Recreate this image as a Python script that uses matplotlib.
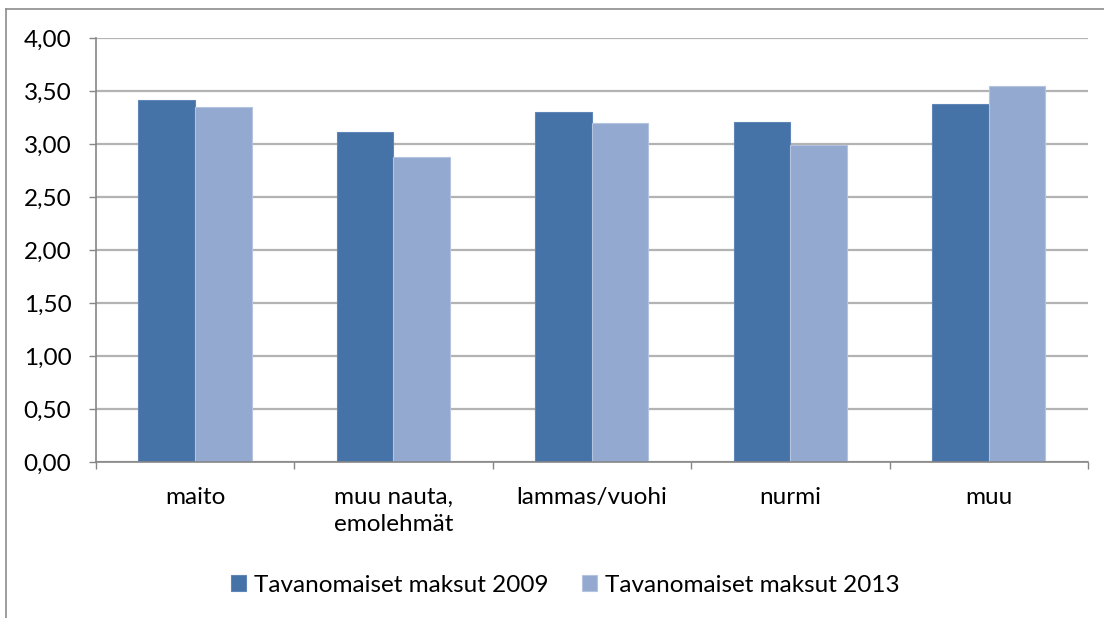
import numpy as np
import matplotlib

matplotlib.use("Agg")
import matplotlib.pyplot as plt
from matplotlib.lines import Line2D
from matplotlib.ticker import FuncFormatter, MultipleLocator

categories = ["maito", "muu nauta,\nemolehmät", "lammas/vuohi", "nurmi", "muu"]
series_names = ["Tavanomaiset maksut 2009", "Tavanomaiset maksut 2013"]
values_2009 = [3.42, 3.12, 3.31, 3.21, 3.38]
values_2013 = [3.35, 2.88, 3.20, 2.99, 3.55]

colors = ["#4572A7", "#93A9CF"]
edge_colors = ["#5F86B6", "#B4C4E0"]
grid_color = "#B3B3B3"
axis_color = "#868686"

plt.rcParams["font.family"] = ["Lato", "DejaVu Sans"]
plt.rcParams["font.size"] = 17.5

fig = plt.figure(figsize=(11.04, 6.18), dpi=100)
ax = fig.add_axes([0.0867, 0.2519, 0.8988, 0.686])

x = np.arange(len(categories))
width = 0.285
for i, (vals, name) in enumerate(zip((values_2009, values_2013), series_names)):
    offset = (i - 0.5) * width
    ax.bar(
        x + offset,
        vals,
        width=width,
        color=colors[i],
        edgecolor=edge_colors[i],
        linewidth=0.8,
        label=name,
        zorder=3,
    )

# y axis
ax.set_ylim(0, 4)
ax.yaxis.set_major_locator(MultipleLocator(0.5))
ax.yaxis.set_major_formatter(FuncFormatter(lambda v, _: f"{v:.2f}".replace(".", ",")))
ax.grid(axis="y", color=grid_color, linewidth=1.6, zorder=0)
ax.tick_params(axis="y", length=5, width=1, color=axis_color, pad=12.5, labelcolor="black")

# x axis: labels at centres, tick marks between categories
ax.set_xlim(-0.5, len(categories) - 0.5)
ax.set_xticks(x)
ax.set_xticklabels(categories, linespacing=1.35)
ax.set_xticks(np.arange(-0.5, len(categories)), minor=True)
ax.tick_params(axis="x", which="major", length=0, pad=18)
ax.tick_params(axis="x", which="minor", length=5, width=1, color=axis_color)

for side in ("top", "right"):
    ax.spines[side].set_visible(False)
for side in ("left", "bottom"):
    ax.spines[side].set_color(axis_color)
    ax.spines[side].set_linewidth(1.2)
    ax.spines[side].set_zorder(4)

fig.legend(
    loc="center",
    bbox_to_anchor=(0.512, 0.053),
    ncol=2,
    frameon=False,
    handlelength=0.62,
    handleheight=0.62,
    handletextpad=0.3,
    columnspacing=1.4,
    fontsize=17.5,
)

# chart border (cropped on right and bottom)
fig.add_artist(Line2D([6 / 1104, 6 / 1104], [0, 1 - 9 / 618], color="#8C8C8C", linewidth=1.2))
fig.add_artist(Line2D([6 / 1104, 1], [1 - 9 / 618, 1 - 9 / 618], color="#8C8C8C", linewidth=1.2))

fig.savefig("out.png", dpi=100)
